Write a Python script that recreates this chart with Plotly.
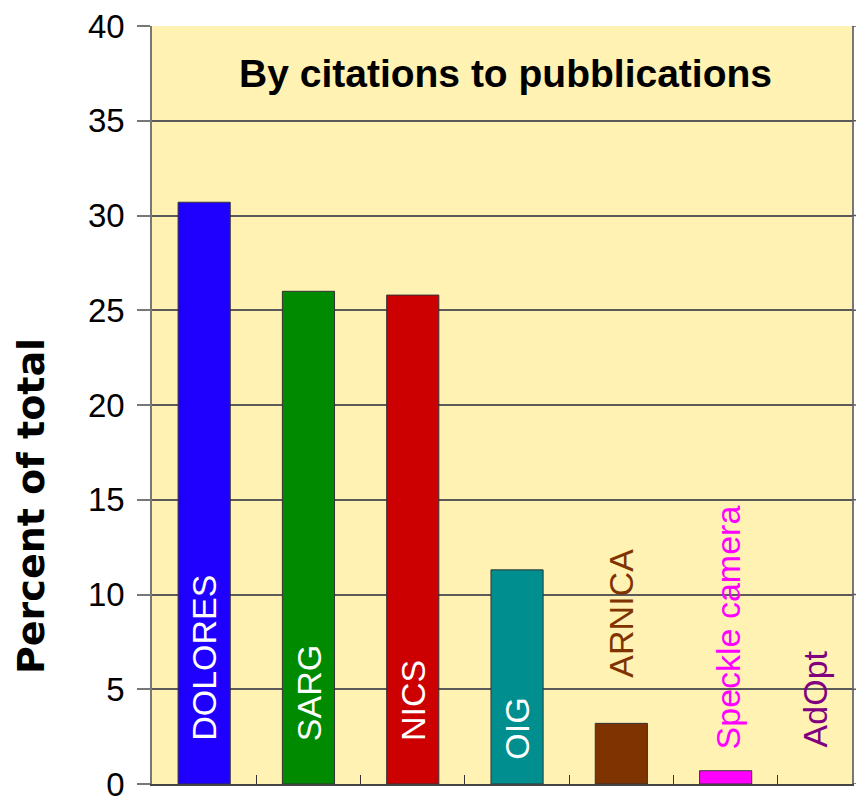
import plotly.graph_objects as go

# ---- data ----
instruments = ["DOLORES", "SARG", "NICS", "OIG", "ARNICA", "Speckle camera", "AdOpt"]
percent_of_total = [30.7, 26.0, 25.8, 11.3, 3.2, 0.7, 0.0]
bar_colors = ["#1F00FF", "#008A00", "#CC0000", "#008E8E", "#7F3300", "#FF00FF", "#800080"]
y_ticks = [0, 5, 10, 15, 20, 25, 30, 35, 40]
title_text = "By citations to pubblications"
y_title = "Percent of total"

# ---- label styling (inside bars white, outside coloured) ----
label_inside = [True, True, True, True, False, False, False]
label_bottom = [2.18, 2.18, 2.18, 1.18, 5.5, 1.7, 1.85]   # where the label's lower end sits
label_xshift = [0, 0, 0, 0, 0, 2, -15]

BG = "#FFF2B3"
GRID = "#5A5A5A"
W, H = 856, 800
L, R, T, B = 152, 4, 26, 16
plot_w = W - L - R
cat_w = 104.3
x_max = -0.5 + plot_w / cat_w

fig = go.Figure()
fig.add_trace(go.Bar(
    x=instruments, y=percent_of_total, width=0.5,
    marker=dict(color=bar_colors,
                line=dict(color="#333333", width=[1 if v > 0 else 0 for v in percent_of_total])),
    hoverinfo="x+y", showlegend=False,
))

annotations = []
for i, name in enumerate(instruments):
    annotations.append(dict(
        x=name, y=label_bottom[i], xref="x", yref="y",
        text=name, textangle=-90, showarrow=False,
        xanchor="center", yanchor="bottom", xshift=label_xshift[i],
        font=dict(family="Liberation Sans, Arial, sans-serif", size=34,
                  color="white" if label_inside[i] else bar_colors[i]),
    ))

annotations.append(dict(
    x=(506 - L) / plot_w, y=(H - B - 73) / (H - T - B), xref="paper", yref="paper",
    text="<b>" + title_text + "</b>", showarrow=False,
    xanchor="center", yanchor="middle",
    font=dict(family="Liberation Sans, Arial, sans-serif", size=39, color="black"),
))
annotations.append(dict(
    x=(31 - L) / plot_w, y=(H - B - 506) / (H - T - B), xref="paper", yref="paper",
    text="<b>" + y_title + "</b>", showarrow=False, textangle=-90,
    xanchor="center", yanchor="middle",
    font=dict(family="DejaVu Sans, sans-serif", size=38, color="black"),
))

# gridlines continuing a little past the plot frame, as in the original
shapes = []
for v in y_ticks:
    shapes.append(dict(type="line", xref="paper", yref="y", x0=1, x1=1 + R / plot_w,
                       y0=v, y1=v, line=dict(color=GRID, width=1.5)))

fig.update_layout(
    width=W, height=H,
    margin=dict(l=L, r=R, t=T, b=B, autoexpand=False),
    paper_bgcolor="white", plot_bgcolor=BG,
    annotations=annotations, shapes=shapes,
    bargap=0.5,
    xaxis=dict(
        type="category", range=[-0.5, x_max], tickson="boundaries", automargin=False,
        ticks="inside", ticklen=9, tickcolor="#333333", tickwidth=1,
        showticklabels=False, showgrid=False, zeroline=False,
        showline=True, linecolor="#444444", linewidth=1.5, fixedrange=True,
    ),
    xaxis2=dict(
        overlaying="x", anchor="y", type="linear", range=[-0.5, x_max], automargin=False,
        tickmode="array", tickvals=[i - 0.5 for i in range(len(instruments))],
        ticks="outside", ticklen=4, tickcolor="#333333", tickwidth=1,
        showticklabels=False, showgrid=False, zeroline=False, showline=False,
    ),
    yaxis=dict(
        range=[0, 40], tickmode="array", tickvals=y_ticks, automargin=False,
        ticks="outside", ticklen=13, tickcolor="#777777", tickwidth=1.5,
        ticklabelstandoff=6, ticklabeloverflow="allow",
        tickfont=dict(family="Liberation Sans, Arial, sans-serif", size=33, color="black"),
        showgrid=True, gridcolor=GRID, gridwidth=1.5,
        zeroline=False, showline=True, linecolor="#777777", linewidth=1.5,
        mirror=True,
    ),
)

fig.write_html("out.html", config={"displayModeBar": False},
               post_script="document.body.style.margin='0';")
